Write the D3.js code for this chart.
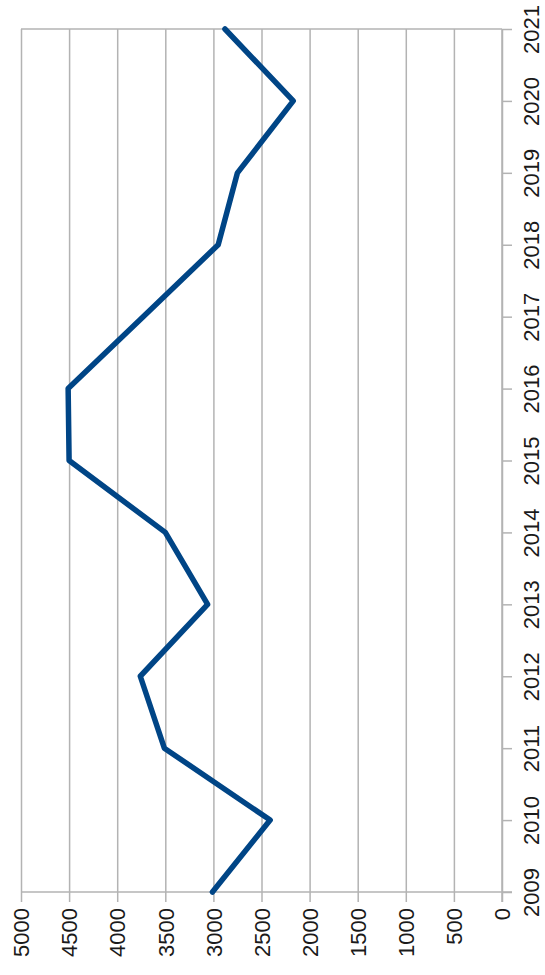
<!DOCTYPE html>
<html>
<head>
<meta charset="utf-8">
<script src="https://cdn.jsdelivr.net/npm/d3@7"></script>
<style>
  body { margin: 0; background: #fff; }
  svg { display: block; }
  .grid line { stroke: #b3b3b3; stroke-width: 1.5px; }
  .grid path { display: none; }
  .axis path, .axis line { stroke: #b3b3b3; stroke-width: 1.5px; }
  .axis text { font-family: "Liberation Sans", Arial, sans-serif; font-size: 22px; fill: #1a1a1a; }
</style>
</head>
<body>
<script>
var years = [2009, 2010, 2011, 2012, 2013, 2014, 2015, 2016, 2017, 2018, 2019, 2020, 2021];
var values = [3010, 2410, 3510, 3760, 3060, 3500, 4500, 4510, 3730, 2950, 2750, 2170, 2880];
var valueTicks = [0, 500, 1000, 1500, 2000, 2500, 3000, 3500, 4000, 4500, 5000];

(function(){

//frame: the chart is drawn turned a quarter turn, values run right to left
var width = 545,
    height = 975,
    plotLeft = 21,
    plotRight = 502,
    plotTop = 29,
    plotBottom = 892;

var svg = d3.select("body")
    .append("svg")
    .attr("width", width)
    .attr("height", height);

//value scale runs horizontally, 5000 at left and 0 at right
var x = d3.scaleLinear()
    .domain([0, 5000])
    .range([plotRight, plotLeft]);

//years run bottom to top
var y = d3.scalePoint()
    .domain(years)
    .range([plotBottom, plotTop]);

//vertical gridlines
svg.append("g")
    .attr("class", "grid")
    .attr("transform", "translate(0," + plotBottom + ")")
    .call(d3.axisBottom(x).tickValues(valueTicks).tickSize(-(plotBottom - plotTop)).tickFormat(""));

//top border line
svg.append("line")
    .attr("x1", plotLeft).attr("x2", plotRight)
    .attr("y1", plotTop).attr("y2", plotTop)
    .style("stroke", "#b3b3b3")
    .style("stroke-width", "1.5px");

//value axis along the bottom
var xAxis = svg.append("g")
    .attr("class", "axis")
    .attr("transform", "translate(0," + plotBottom + ")")
    .call(d3.axisBottom(x).tickValues(valueTicks).tickSize(10).tickSizeOuter(0).tickFormat(d3.format("d")));

xAxis.select(".domain").attr("d", "M" + plotLeft + ",0H" + (plotRight + 10));

xAxis.selectAll("text")
    .attr("transform", "rotate(-90)")
    .attr("text-anchor", "end")
    .attr("x", -16)
    .attr("y", 0)
    .attr("dy", "0.35em");

//year axis on the right
var yAxis = svg.append("g")
    .attr("class", "axis")
    .attr("transform", "translate(" + plotRight + ",0)")
    .call(d3.axisRight(y).tickSize(10).tickSizeOuter(0));

yAxis.select(".domain").attr("d", "M0," + plotTop + "V" + (plotBottom + 10));

yAxis.selectAll("text")
    .attr("transform", "rotate(-90)")
    .attr("text-anchor", "middle")
    .attr("x", 0)
    .attr("y", 29)
    .attr("dy", "0.35em");

//the data line
var line = d3.line()
    .x(function(d){ return x(d.value); })
    .y(function(d){ return y(d.year); });

var data = years.map(function(yr, i){
    return {year: yr, value: values[i]};
});

svg.append("path")
    .datum(data)
    .attr("d", line)
    .style("fill", "none")
    .style("stroke", "#004586")
    .style("stroke-width", "5.5px")
    .style("stroke-linejoin", "round")
    .style("stroke-linecap", "round");

})();
</script>
</body>
</html>
